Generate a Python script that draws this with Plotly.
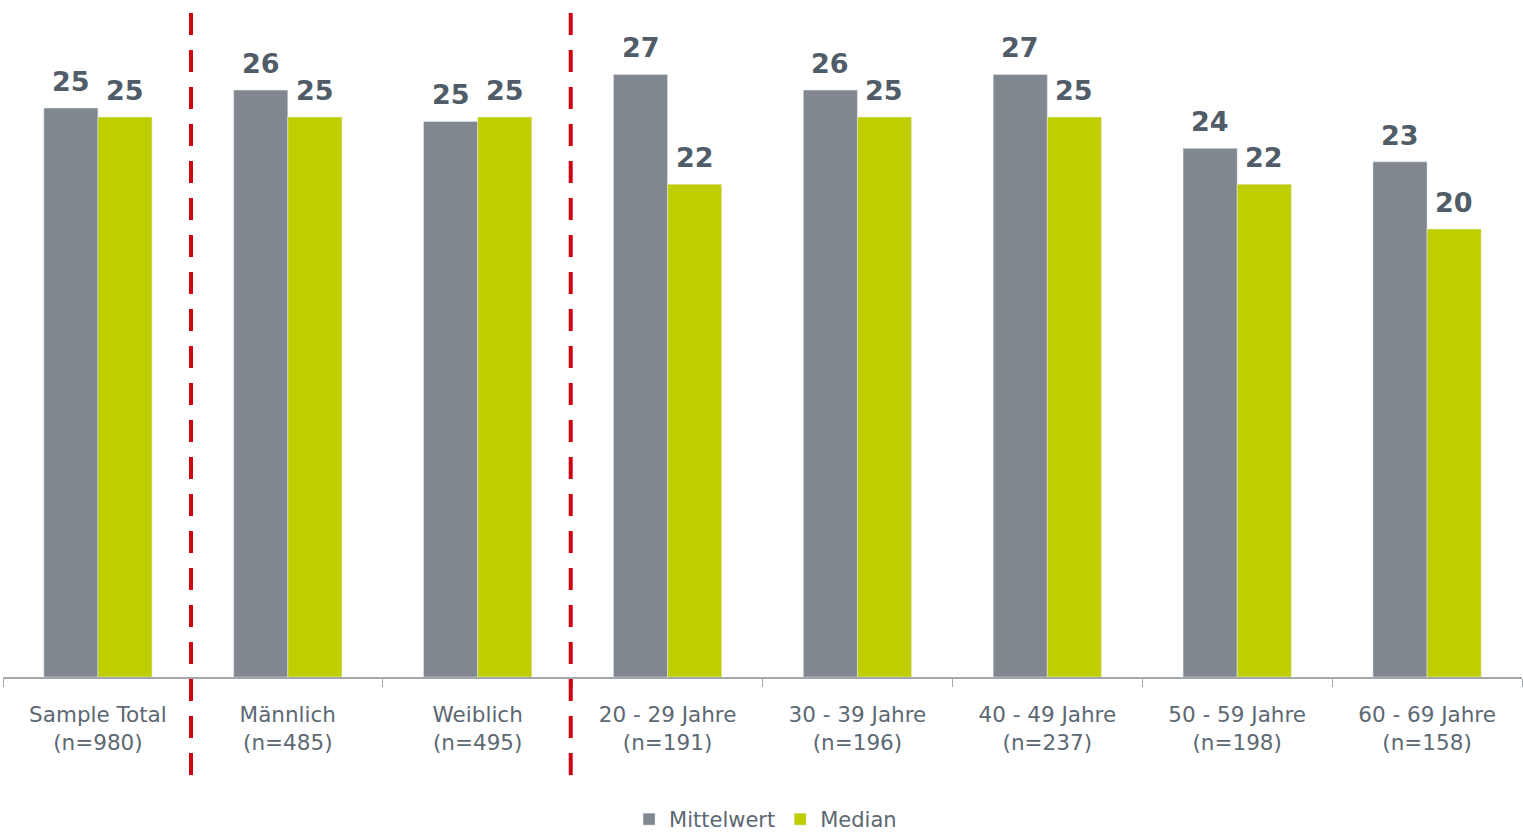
import plotly.graph_objects as go

GREY = "#80878F"
GREEN = "#BFCE00"
TEXT = "#505C68"
LABEL = "#5C6873"
RED = "#D0000F"
AXIS = "#A3A8AD"

categories = [
    "Sample Total<br>(n=980)",
    "Männlich<br>(n=485)",
    "Weiblich<br>(n=495)",
    "20 - 29 Jahre<br>(n=191)",
    "30 - 39 Jahre<br>(n=196)",
    "40 - 49 Jahre<br>(n=237)",
    "50 - 59 Jahre<br>(n=198)",
    "60 - 69 Jahre<br>(n=158)",
]
mittelwert = [25.4, 26.2, 24.8, 26.9, 26.2, 26.9, 23.6, 23.0]
median = [25, 25, 25, 22, 25, 25, 22, 20]
separators = [0.49, 2.49]

fig = go.Figure()
fig.add_bar(x=categories, y=mittelwert, name="Mittelwert", marker_color=GREY)
fig.add_bar(x=categories, y=median, name="Median", marker_color=GREEN)

# value labels above each bar (bars are 54px wide, so shift half a bar left/right)
for values, shift in [(mittelwert, -27), (median, 27)]:
    for cat, val in zip(categories, values):
        fig.add_annotation(
            x=cat, y=val, text=f"{val:.0f}", showarrow=False, xshift=shift, yshift=9,
            yanchor="bottom", font=dict(size=27, color=TEXT, family="DejaVu Sans", weight="bold"),
        )

for sep in separators:
    fig.add_shape(
        type="line", xref="x", yref="paper", x0=sep, x1=sep, y0=-0.146, y1=1.0,
        line=dict(color=RED, width=4, dash="22px,15px"),
    )

fig.update_layout(
    width=1523, height=836,
    margin=dict(l=3, r=1, t=5, b=159, autoexpand=False),
    paper_bgcolor="white", plot_bgcolor="white",
    barmode="group", bargap=0.43, bargroupgap=0,
    font=dict(family="DejaVu Sans, Verdana, sans-serif", color=LABEL, size=21.5),
    showlegend=True,
    legend=dict(
        orientation="h", x=0.502, xanchor="center", y=-0.212, yanchor="middle",
        font=dict(size=21, color=LABEL), itemwidth=30, traceorder="normal",
    ),
)
fig.update_xaxes(
    showline=True, linecolor=AXIS, linewidth=1.5, ticks="outside", tickson="boundaries",
    ticklen=8, tickcolor=AXIS, showgrid=False, ticklabelstandoff=17,
)
fig.update_yaxes(range=[0, 30], visible=False, showgrid=False)

fig.write_html(
    "out.html",
    config={"displayModeBar": False},
    post_script="document.body.style.margin = '0';",
)
